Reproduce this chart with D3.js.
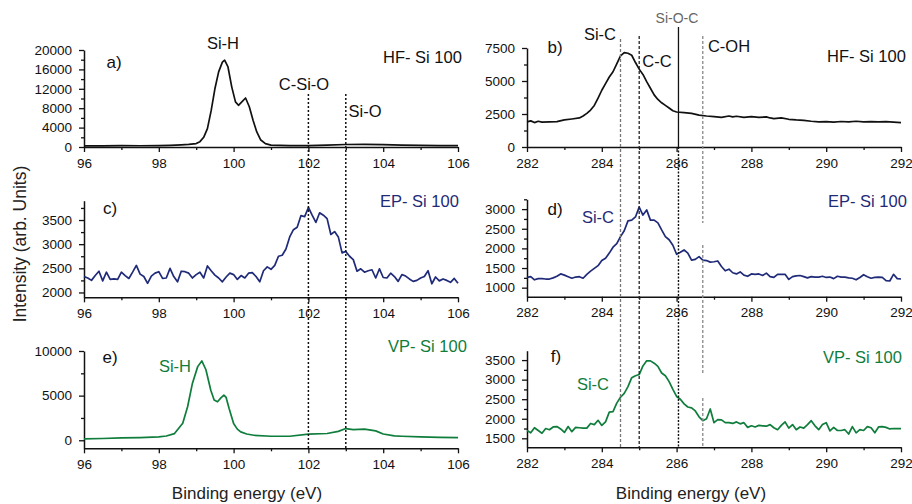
<!DOCTYPE html>
<html>
<head>
<meta charset="utf-8">
<script src="https://cdn.jsdelivr.net/npm/d3@7"></script>
<style>
  body { margin: 0; background: #fff; }
  svg { display: block; font-family: "Liberation Sans", Arial, sans-serif; }
</style>
</head>
<body>
<svg width="912" height="504"></svg>
<script>
// energy grids (eV)
const energySi = [96.0,96.1,96.2,96.3,96.4,96.5,96.6,96.7,96.8,96.9,97.0,97.1,97.2,97.3,97.4,97.5,97.6,97.7,97.8,97.9,
  98.0,98.1,98.2,98.3,98.4,98.5,98.6,98.7,98.8,98.9,99.0,99.1,99.2,99.3,99.4,99.5,99.6,99.7,99.8,99.9,
  100.0,100.1,100.2,100.3,100.4,100.5,100.6,100.7,100.8,100.9,101.0,101.1,101.2,101.3,101.4,101.5,101.6,101.7,101.8,101.9,
  102.0,102.1,102.2,102.3,102.4,102.5,102.6,102.7,102.8,102.9,103.0,103.1,103.2,103.3,103.4,103.5,103.6,103.7,103.8,103.9,
  104.0,104.1,104.2,104.3,104.4,104.5,104.6,104.7,104.8,104.9,105.0,105.1,105.2,105.3,105.4,105.5,105.6,105.7,105.8,105.9,106.0];
const energyC = [282.0,282.1,282.2,282.3,282.4,282.5,282.6,282.7,282.8,282.9,283.0,283.1,283.2,283.3,283.4,283.5,283.6,283.7,283.8,283.9,
  284.0,284.1,284.2,284.3,284.4,284.5,284.6,284.7,284.8,284.9,285.0,285.1,285.2,285.3,285.4,285.5,285.6,285.7,285.8,285.9,
  286.0,286.1,286.2,286.3,286.4,286.5,286.6,286.7,286.8,286.9,287.0,287.1,287.2,287.3,287.4,287.5,287.6,287.7,287.8,287.9,
  288.0,288.1,288.2,288.3,288.4,288.5,288.6,288.7,288.8,288.9,289.0,289.1,289.2,289.3,289.4,289.5,289.6,289.7,289.8,289.9,
  290.0,290.1,290.2,290.3,290.4,290.5,290.6,290.7,290.8,290.9,291.0,291.1,291.2,291.3,291.4,291.5,291.6,291.7,291.8,291.9,292.0];

// a) HF Si 2p  [eV, counts]
const hfSi = [[96,250],[96.5,230],[97,280],[97.5,260],[98,300],[98.3,350],[98.6,450],[98.8,550],[99.0,700],[99.1,1100],
  [99.2,2000],[99.3,3800],[99.4,7500],[99.5,12000],[99.6,15500],[99.7,17500],[99.76,17900],[99.85,16500],[99.95,12400],
  [100.05,9300],[100.13,8600],[100.22,9300],[100.32,10100],[100.42,8300],[100.52,5500],[100.62,3100],[100.72,1500],
  [100.85,700],[101.0,400],[101.5,300],[102,280],[102.5,400],[103,520],[103.5,560],[104,480],[104.5,380],[105,330],[105.5,300],[106,300]];

// b) HF C 1s
const hfC = [[282.0,1900],[282.1,1980],[282.2,1850],[282.3,1950],[282.4,1880],[282.6,1900],[282.8,1920],[283.0,2050],[283.2,2120],
  [283.4,2200],[283.5,2350],[283.6,2550],[283.7,2800],[283.8,3150],[283.9,3700],[284.0,4300],[284.1,4800],[284.2,5300],[284.3,5700],
  [284.4,6300],[284.5,6900],[284.6,7150],[284.7,7100],[284.8,6950],[284.9,6400],[285.0,5900],[285.1,5500],[285.2,4950],[285.3,4450],
  [285.4,3950],[285.5,3600],[285.6,3350],[285.7,3150],[285.8,2950],[285.9,2750],[286.0,2650],[286.2,2600],[286.4,2550],[286.6,2420],
  [286.8,2350],[287.0,2300],[287.2,2250],[287.4,2350],[287.5,2280],[287.6,2330],[287.8,2250],[288.0,2300],[288.2,2240],[288.4,2280],
  [288.5,2200],[288.6,2150],[288.8,2200],[289.0,2100],[289.2,2050],[289.4,2020],[289.6,1950],[289.8,1900],[290.0,1920],[290.2,1880],
  [290.4,1930],[290.6,1900],[290.8,1950],[291.0,1900],[291.2,1920],[291.4,1900],[291.6,1920],[291.8,1880],[292.0,1850]];

// c) EP Si 2p, one value per energySi
const epSi = [2330,2300,2250,2350,2440,2240,2420,2270,2280,2270,2420,2350,2290,2420,2560,2380,2330,2190,2340,2400,
  2430,2290,2300,2500,2330,2220,2440,2430,2400,2300,2370,2420,2300,2550,2450,2360,2300,2220,2320,2400,
  2370,2270,2350,2300,2400,2410,2330,2220,2450,2530,2480,2560,2750,2770,2900,3150,3300,3350,3590,3570,
  3760,3600,3450,3650,3600,3530,3200,3260,3150,2820,2850,2750,2680,2440,2490,2420,2450,2470,2300,2490,
  2310,2300,2400,2330,2230,2370,2340,2280,2230,2250,2300,2330,2450,2180,2320,2240,2280,2250,2210,2290,2190];

// d) EP C 1s, one value per energyC
const epC = [1260,1280,1200,1230,1230,1220,1220,1250,1290,1350,1320,1280,1240,1270,1280,1240,1340,1420,1490,1560,
  1690,1750,1880,2030,2120,2300,2450,2700,2720,2800,3050,2850,2980,2720,2720,2650,2470,2300,2220,2080,
  1850,1900,1960,1880,1700,1720,1790,1700,1690,1650,1660,1680,1540,1430,1470,1380,1350,1400,1320,1290,
  1350,1340,1350,1310,1370,1280,1260,1340,1340,1340,1210,1280,1300,1310,1280,1250,1280,1270,1270,1290,
  1260,1270,1230,1290,1270,1270,1250,1240,1200,1260,1330,1280,1240,1260,1270,1260,1180,1170,1340,1230,1220];

// e) VP Si 2p
const vpSi = [[96,150],[96.5,200],[97,260],[97.5,300],[98,375],[98.2,480],[98.42,750],[98.64,1900],[98.77,3750],[98.9,6400],
  [99.04,8250],[99.15,8890],[99.26,7900],[99.39,5600],[99.48,4500],[99.57,4310],[99.66,4750],[99.74,5060],[99.8,4800],
  [99.88,3560],[100.0,1875],[100.1,1250],[100.19,940],[100.35,700],[100.54,560],[101.0,450],[101.5,450],[102.0,680],
  [102.5,760],[102.8,1000],[103.0,1310],[103.2,1200],[103.5,1250],[103.8,1050],[104.0,700],[104.3,500],[104.5,450],
  [105,370],[105.5,330],[106,300]];

// f) VP C 1s, one value per energyC
const vpC = [1700,1640,1770,1700,1630,1750,1720,1790,1800,1740,1650,1800,1670,1780,1770,1760,1760,1880,1850,1960,
  1830,1920,2170,2180,2400,2550,2650,2820,3050,3100,3130,3350,3480,3480,3420,3340,3170,3100,2950,2750,
  2570,2500,2380,2300,2280,2200,2050,1950,2000,2250,1900,1980,1970,1900,1900,1880,1920,1870,1900,1780,
  1820,1790,1830,1820,1810,1850,1770,1720,1830,1920,1760,1850,1720,1790,1760,1850,1950,1820,1720,1850,
  1900,1690,1780,1700,1700,1720,1610,1800,1640,1720,1700,1800,1770,1640,1790,1800,1780,1740,1750,1750,1750];

// tick labels
const siTicks = [96, 98, 100, 102, 104, 106];
const siMinor = [97, 99, 101, 103, 105];
const cTicks = [282, 284, 286, 288, 290, 292];
const cMinor = [283, 285, 287, 289, 291];

// chemical-state markers (eV)
const siMarks = [102, 103];
const cMarks = [284.5, 285.0, 286.05, 286.7];

const black = "#111", navy = "#1f2a78", green = "#0f7d3b";

const svg = d3.select("svg");

const xSi = d3.scaleLinear().domain([96, 106]).range([84, 458]);
const xC = d3.scaleLinear().domain([282, 292]).range([527, 901]);

const panels = [
  { id: "a)", x: xSi, data: hfSi, pairs: true, dom: [0, 20000], rng: [147, 50], major: [0,4000,8000,12000,16000,20000], minor: [2000,6000,10000,14000,18000],
    color: black, title: "HF- Si 100", tx: 383, ty: 57, lab: [[114, 62]] },
  { id: "b)", x: xC, data: hfC, pairs: true, dom: [0, 7500], rng: [147, 48], major: [0,2500,5000,7500], minor: [1250,3750,6250],
    color: black, title: "HF- Si 100", tx: 827, ty: 56, lab: [[555, 47]] },
  { id: "c)", x: xSi, data: epSi, grid: energySi, dom: [1900, 3900], rng: [297.3, 200.7], major: [2000,2500,3000,3500], minor: [2250,2750,3250,3750],
    color: navy, title: "EP- Si 100", tx: 380, ty: 201, lab: [[110, 208]] },
  { id: "d)", x: xC, data: epC, grid: energyC, dom: [770, 3250], rng: [296.7, 199.3], major: [1000,1500,2000,2500,3000], minor: [1250,1750,2250,2750,3250],
    color: navy, title: "EP- Si 100", tx: 828, ty: 201, lab: [[555, 209]] },
  { id: "e)", x: xSi, data: vpSi, pairs: true, dom: [-900, 10000], rng: [448.3, 351], major: [0,5000,10000], minor: [2500,7500],
    color: green, title: "VP- Si 100", tx: 388, ty: 346, lab: [[110, 357]] },
  { id: "f)", x: xC, data: vpC, grid: energyC, dom: [1270, 3740], rng: [447.3, 350.7], major: [1500,2000,2500,3000,3500], minor: [1750,2250,2750,3250],
    color: green, title: "VP- Si 100", tx: 823, ty: 357, lab: [[556, 356]] }
];

panels.forEach(function(p) {
  const y = d3.scaleLinear().domain(p.dom).range(p.rng);
  const x = p.x;
  const base = p.rng[0];
  const isSi = x === xSi;
  const g = svg.append("g");

  // x axis
  g.append("g").attr("transform", "translate(0," + base + ")")
    .call(d3.axisBottom(x).tickValues(isSi ? siTicks : cTicks).tickSize(5).tickSizeOuter(0).tickPadding(6))
    .call(styleAxis);
  g.append("g").attr("transform", "translate(0," + base + ")")
    .call(d3.axisBottom(x).tickValues(isSi ? siMinor : cMinor).tickSize(3).tickFormat(""))
    .call(styleAxis).select(".domain").remove();

  // y axis
  const x0 = x.range()[0];
  g.append("g").attr("transform", "translate(" + x0 + ",0)")
    .call(d3.axisLeft(y).tickValues(p.major).tickSize(5).tickSizeOuter(0).tickPadding(7).tickFormat(d3.format("d")))
    .call(styleAxis);
  g.append("g").attr("transform", "translate(" + x0 + ",0)")
    .call(d3.axisLeft(y).tickValues(p.minor).tickSize(3).tickFormat(""))
    .call(styleAxis).select(".domain").remove();

  // curve
  const pts = p.pairs ? p.data : p.data.map(function(v, i) { return [p.grid[i], v]; });
  const line = d3.line().x(function(d) { return x(d[0]); }).y(function(d) { return y(d[1]); });
  g.append("path").datum(pts)
    .attr("d", line)
    .attr("fill", "none")
    .attr("stroke", p.color)
    .attr("stroke-width", 1.7)
    .attr("stroke-linejoin", "round");

  // panel letter and sample name
  g.append("text").attr("x", p.lab[0][0]).attr("y", p.lab[0][1])
    .attr("dy", "0.35em").attr("text-anchor", "middle")
    .style("font-size", "17px").attr("fill", "#111").text(p.id);
  g.append("text").attr("x", p.tx).attr("y", p.ty).attr("dy", "0.35em")
    .style("font-size", "16.5px").attr("fill", p.color).text(p.title);
});

function styleAxis(sel) {
  sel.select(".domain").attr("stroke", "#111").attr("stroke-width", 1.5);
  sel.selectAll(".tick line").attr("stroke", "#111").attr("stroke-width", 1.3);
  sel.selectAll(".tick text").attr("fill", "#111").style("font-size", "13.5px")
    .style("font-family", "'Liberation Sans', Arial, sans-serif");
}

// marker lines, left column
siMarks.forEach(function(m) {
  svg.append("line")
    .attr("x1", xSi(m)).attr("x2", xSi(m)).attr("y1", 94).attr("y2", 448)
    .attr("stroke", "#111").attr("stroke-width", 1.5).attr("stroke-dasharray", "2,2");
});

// marker lines, right column
const cStyle = [
  { segs: [[39, 447]], color: "#777", dash: "3,2" },
  { segs: [[36, 447]], color: "#222", dash: "3,2" },
  { segs: [[27, 147]], color: "#111", dash: null, more: [[147, 447]] },
  { segs: [[36, 223], [245, 375], [398, 447]], color: "#888", dash: "3,2" }
];
cMarks.forEach(function(m, i) {
  const s = cStyle[i];
  s.segs.forEach(function(seg) {
    svg.append("line")
      .attr("x1", xC(m)).attr("x2", xC(m)).attr("y1", seg[0]).attr("y2", seg[1])
      .attr("stroke", s.color).attr("stroke-width", 1.3)
      .attr("stroke-dasharray", s.dash);
  });
  if (s.more) s.more.forEach(function(seg) {
    svg.append("line")
      .attr("x1", xC(m)).attr("x2", xC(m)).attr("y1", seg[0]).attr("y2", seg[1])
      .attr("stroke", "#111").attr("stroke-width", 1.4).attr("stroke-dasharray", "2,1.5");
  });
});

// peak annotations
const notes = [
  { t: "Si-H", x: 223, y: 43, c: black },
  { t: "C-Si-O", x: 304, y: 84, c: black },
  { t: "Si-O", x: 365, y: 111, c: black },
  { t: "Si-C", x: 600, y: 34, c: black },
  { t: "C-C", x: 657, y: 61, c: black },
  { t: "C-OH", x: 729, y: 46, c: black },
  { t: "Si-C", x: 598, y: 217, c: navy },
  { t: "Si-H", x: 175, y: 366, c: green },
  { t: "Si-C", x: 593, y: 384, c: green }
];
notes.forEach(function(n) {
  svg.append("text").attr("x", n.x).attr("y", n.y).attr("dy", "0.35em")
    .attr("text-anchor", "middle").style("font-size", "16.5px")
    .attr("fill", n.c).text(n.t);
});
svg.append("text").attr("x", 677).attr("y", 18).attr("dy", "0.35em")
  .attr("text-anchor", "middle").style("font-size", "14px")
  .attr("fill", "#666").text("Si-O-C");

// axis titles
svg.append("text")
  .attr("transform", "translate(20,244) rotate(-90)")
  .attr("text-anchor", "middle").attr("dy", "0.35em")
  .style("font-size", "17.5px").attr("fill", "#222")
  .text("Intensity (arb. Units)");
[[247, xSi], [691, xC]].forEach(function(a) {
  svg.append("text").attr("x", a[0]).attr("y", 493).attr("dy", "0.35em")
    .attr("text-anchor", "middle").style("font-size", "17px").attr("fill", "#222")
    .text("Binding energy (eV)");
});
</script>
</body>
</html>
